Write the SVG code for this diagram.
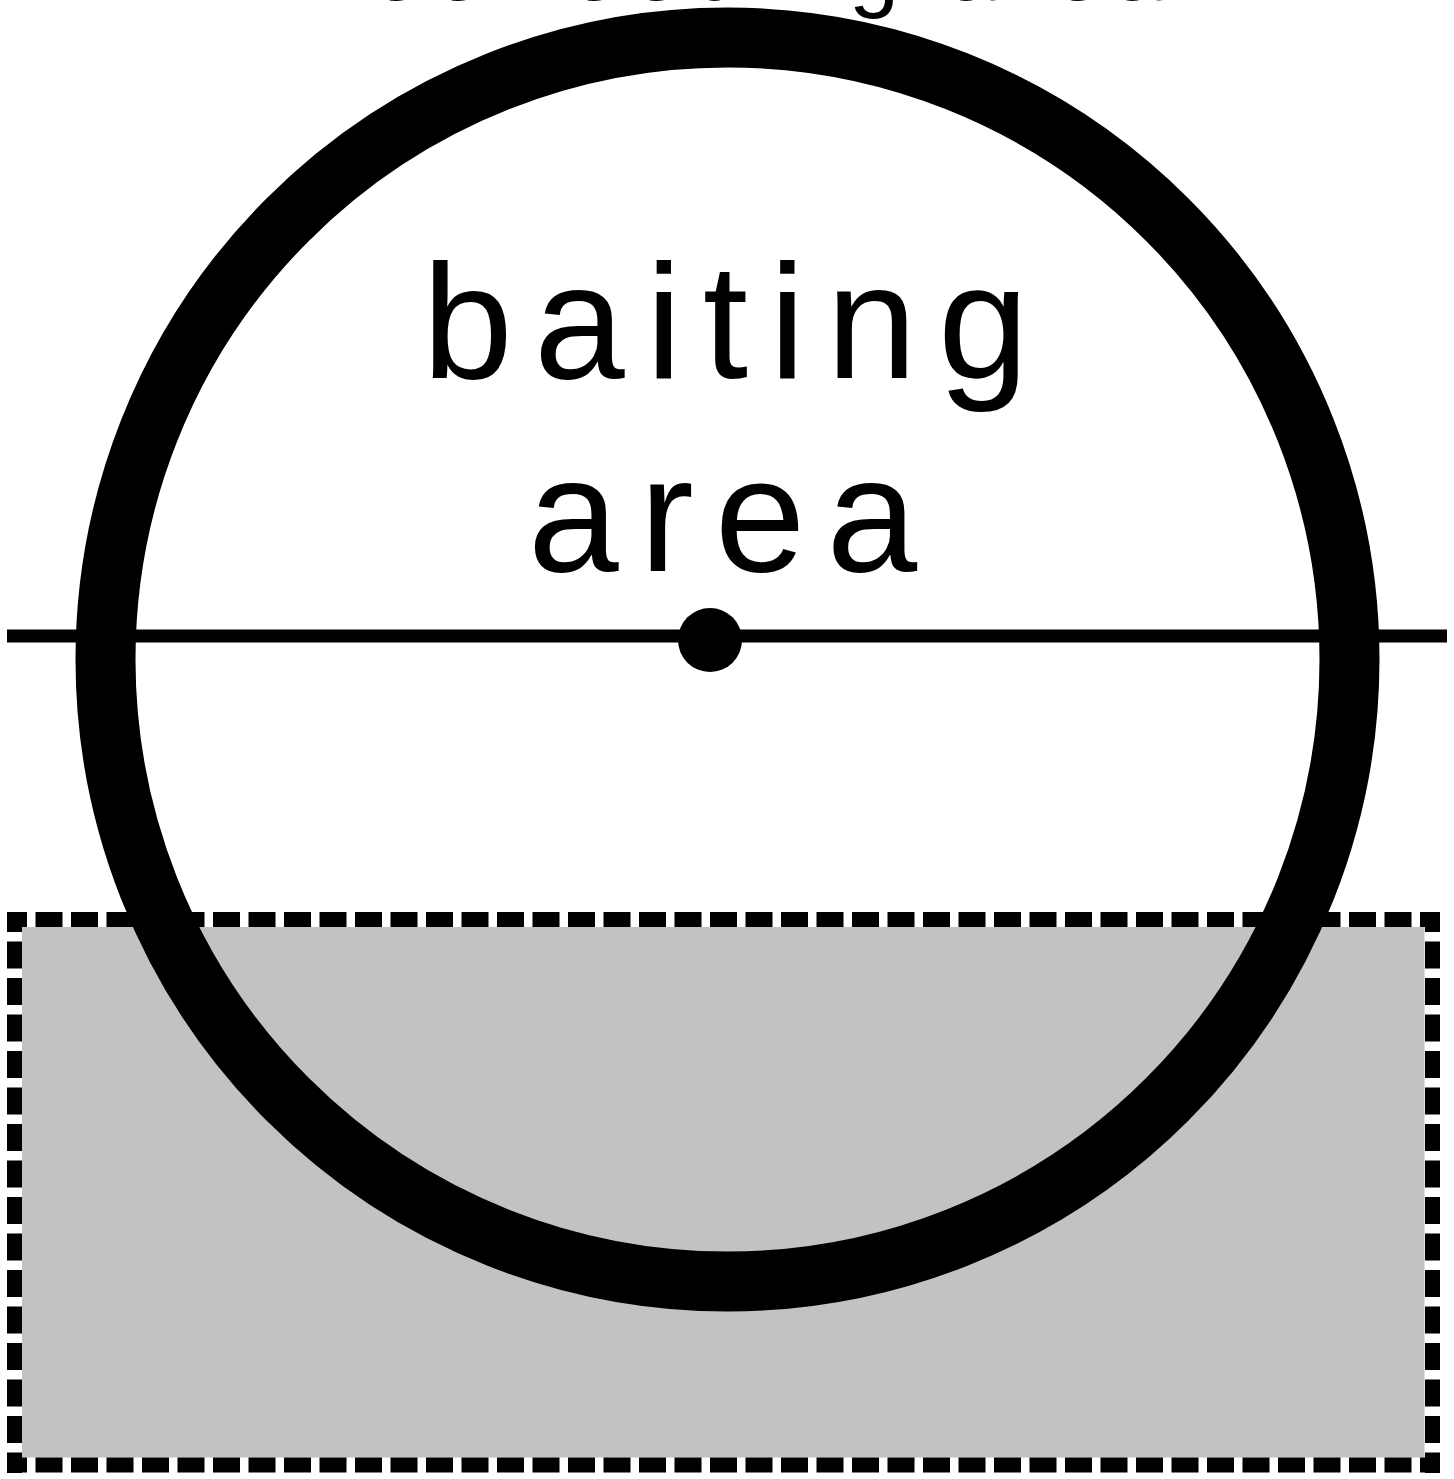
<svg xmlns="http://www.w3.org/2000/svg" width="1454" height="1479" viewBox="0 0 1454 1479">
<style>
.lbl{font-family:"Liberation Sans",Arial,sans-serif;fill:#000;text-anchor:middle}
.big{font-size:163px;letter-spacing:21px}
.small{font-size:90px;letter-spacing:12px}
.dash{stroke:#000;stroke-width:15;fill:none;stroke-dashoffset:7}
.h{stroke-dasharray:27 8.5}
.v{stroke-dasharray:27 9.5}
</style>
<rect width="1454" height="1479" fill="#fff"/>
<g id="free-feeding-area">
<rect x="22" y="927" width="1402.5" height="530.5" fill="#c2c2c2"/>
<line class="dash h" x1="7" y1="919.5" x2="1440" y2="919.5"/>
<line class="dash h" x1="7" y1="1465" x2="1440" y2="1465"/>
<line class="dash v" x1="14.5" y1="912" x2="14.5" y2="1473"/>
<line class="dash v" x1="1432.5" y1="912" x2="1432.5" y2="1473"/>
<text class="lbl small" x="734" y="-0.5">free feeding area</text>
</g>
<g id="baiting-area">
<circle cx="727.5" cy="659.5" r="622" fill="none" stroke="#000" stroke-width="60"/>
<text class="lbl big" x="736" y="378">baiting</text>
<text class="lbl big" x="733" y="571">area</text>
</g>
<g id="connectors">
<line x1="7" y1="636" x2="1447" y2="636" stroke="#000" stroke-width="13"/>
<circle cx="710" cy="640" r="32" fill="#000"/>
</g>
</svg>
